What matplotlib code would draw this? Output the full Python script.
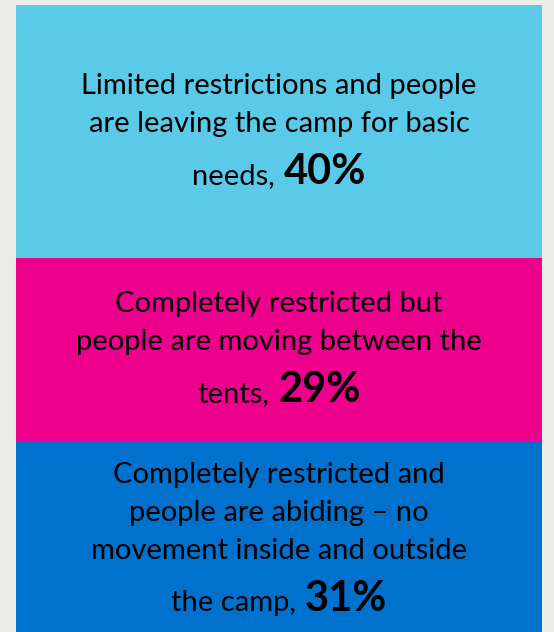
import matplotlib
matplotlib.use("Agg")
import matplotlib.pyplot as plt

# shares of camp movement situation (top to bottom)
labels = [
    ["Limited restrictions and people", "are leaving the camp for basic", "needs,"],
    ["Completely restricted but", "people are moving between the", "tents,"],
    ["Completely restricted and", "people are abiding \u2013 no",
     "movement inside and outside", "the camp,"],
]
values = [40, 29, 31]
colors = ["#5bc9e8", "#ec008c", "#0071cd"]

DPI = 100
fig = plt.figure(figsize=(5.54, 6.32), dpi=DPI, facecolor="#ececea")
# bar runs slightly below the bottom edge like in the source slide
ax = fig.add_axes([16 / 554, -5 / 632, 526 / 554, 632 / 632])
ax.set_xlim(-0.5, 0.5)
ax.set_ylim(100, 0)
ax.axis("off")

font = "Lato"
fs_norm = 21
fs_bold = 30
line_gap = 38      # px between normal lines
last_gap = 52      # px before the line with the bold percentage
px = 72 / DPI      # px -> points

renderer = fig.canvas.get_renderer()
bottom = 0
for lines, v, c in zip(labels, values, colors):
    ax.bar(0, v, bottom=bottom, width=1.0, color=c, linewidth=0)
    mid = bottom + v / 2
    n = len(lines)
    span = line_gap * (n - 2) + last_gap
    first = 8 - span / 2  # px below segment centre
    for i, line in enumerate(lines[:-1]):
        ax.annotate(line, xy=(0, mid), xytext=(0, -(first + i * line_gap) * px),
                    textcoords="offset points", ha="center", va="baseline",
                    fontsize=fs_norm, family=font, color="black")
    yb = -(first + (n - 2) * line_gap + last_gap) * px
    t1 = ax.annotate(lines[-1], xy=(0, mid), xytext=(0, yb), textcoords="offset points",
                     ha="left", va="baseline", fontsize=fs_norm, family=font, color="black")
    t2 = ax.annotate(f"{v}%", xy=(0, mid), xytext=(0, yb), textcoords="offset points",
                     ha="left", va="baseline", fontsize=fs_bold, family=font,
                     fontweight="bold", color="black")
    w1 = t1.get_window_extent(renderer).width
    w2 = t2.get_window_extent(renderer).width
    gap = 9
    start = -(w1 + gap + w2) / 2
    t1.set_position((start * px, yb))
    t2.set_position(((start + w1 + gap) * px, yb))
    bottom += v

fig.savefig("out.png", dpi=DPI, facecolor=fig.get_facecolor())
